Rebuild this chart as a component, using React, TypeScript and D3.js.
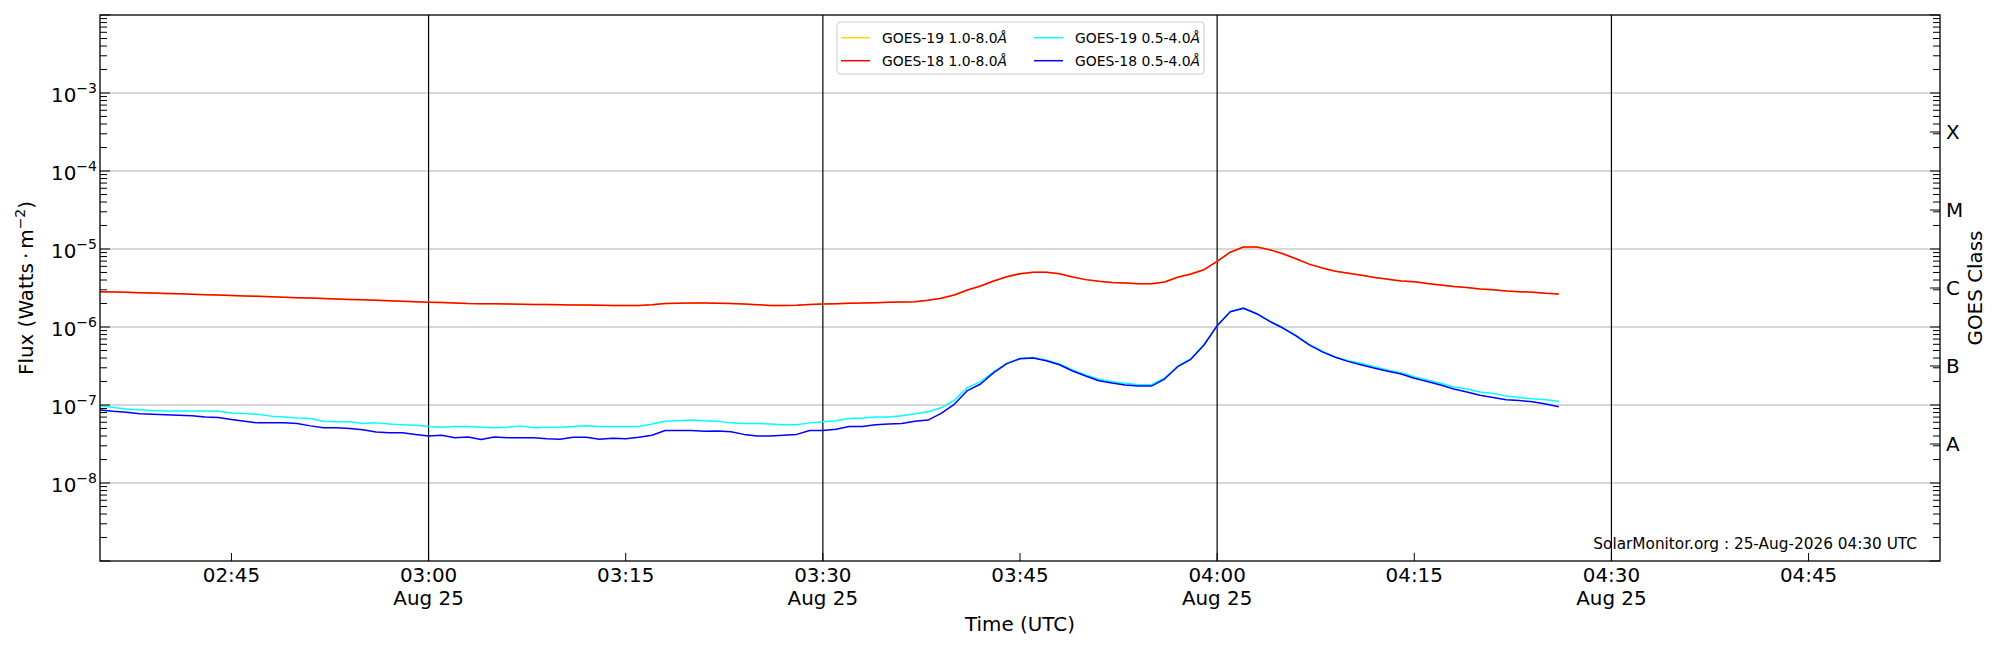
import * as d3 from 'd3';
import * as React from 'react';

const WIDTH = 2000;
const HEIGHT = 650;
const FONT = '"DejaVu Sans", sans-serif';
const FS = 19.9; // 14pt labels
const SUP = 14;

// one sample per minute, starting 02:35 UTC
const startTime = new Date(Date.UTC(2026, 7, 25, 2, 35));

// GOES-18 1.0-8.0 A, in 1e-6 W/m2
const goes18Long = [
  2.83, 2.8, 2.78, 2.75, 2.72, 2.69, 2.66, 2.63, 2.6, 2.57, 2.53, 2.5, 2.47, 2.44, 2.41, 2.38, 2.35, 2.32, 2.29, 2.26,
  2.23, 2.2, 2.17, 2.14, 2.11, 2.08, 2.06, 2.03,
  2.0, 1.99, 1.98, 1.97, 1.96, 1.95, 1.94, 1.93, 1.92, 1.91, 1.9, 1.89, 1.89, 1.88, 1.93, 2.0, 2.02, 2.03, 2.03, 2.02,
  2.0, 1.97, 1.93, 1.89, 1.89, 1.9, 1.94, 1.97,
  1.99, 2.01, 2.03, 2.05, 2.07, 2.09, 2.11, 2.2, 2.33, 2.57, 2.98, 3.35, 3.88, 4.4, 4.83, 5.03, 5.03, 4.83, 4.38, 4.05,
  3.85, 3.73, 3.66, 3.59, 3.59, 3.78, 4.34, 4.78,
  5.43, 6.95, 9.1, 10.6, 10.6, 9.8, 8.7, 7.5, 6.4, 5.7, 5.2, 4.9, 4.6, 4.3, 4.1, 3.9, 3.8, 3.6, 3.45, 3.3, 3.2, 3.07,
  3.0, 2.9, 2.84, 2.79, 2.7, 2.65,
];

// GOES-19 1.0-8.0 A sits exactly under the GOES-18 curve
const goes19Long = goes18Long;

// GOES-19 0.5-4.0 A, in 1e-7 W/m2
const goes19Short = [
  0.98, 0.93, 0.89, 0.87, 0.85, 0.84, 0.84, 0.84, 0.84, 0.83, 0.79, 0.78, 0.76, 0.72, 0.7, 0.68, 0.67, 0.62, 0.61, 0.61,
  0.58, 0.59, 0.57, 0.56, 0.55, 0.53, 0.52, 0.53,
  0.53, 0.52, 0.51, 0.52, 0.54, 0.51, 0.52, 0.52, 0.53, 0.54, 0.53, 0.53, 0.53, 0.53, 0.57, 0.62, 0.63, 0.64, 0.63, 0.62,
  0.59, 0.58, 0.58, 0.57, 0.56, 0.56, 0.59, 0.61,
  0.63, 0.67, 0.68, 0.7, 0.7, 0.73, 0.77, 0.82, 0.92, 1.15, 1.67, 1.99, 2.67, 3.42, 3.97, 4.05, 3.78, 3.36, 2.81, 2.42,
  2.14, 1.99, 1.9, 1.82, 1.82, 2.22, 3.16, 3.92,
  5.95, 10.4, 15.8, 17.5, 14.9, 11.9, 9.8, 7.8, 6.0, 4.9, 4.1, 3.7, 3.4, 3.1, 2.8, 2.6, 2.3, 2.1, 1.9, 1.7, 1.6, 1.47,
  1.4, 1.3, 1.25, 1.2, 1.17, 1.12,
];

// GOES-18 0.5-4.0 A, in 1e-7 W/m2
const goes18Short = [
  0.86, 0.83, 0.81, 0.77, 0.76, 0.75, 0.74, 0.73, 0.7, 0.69, 0.65, 0.62, 0.59, 0.59, 0.59, 0.58, 0.54, 0.51, 0.51, 0.5,
  0.48, 0.45, 0.44, 0.44, 0.42, 0.4, 0.41, 0.38,
  0.39, 0.36, 0.39, 0.38, 0.38, 0.38, 0.37, 0.365, 0.385, 0.385, 0.365, 0.375, 0.37, 0.385, 0.41, 0.47, 0.47, 0.47,
  0.46, 0.465, 0.455, 0.42, 0.4, 0.4, 0.41, 0.42, 0.47, 0.47,
  0.49, 0.53, 0.53, 0.56, 0.57, 0.58, 0.62, 0.64, 0.78, 1.02, 1.53, 1.86, 2.6, 3.39, 3.92, 4.0, 3.7, 3.28, 2.73, 2.35,
  2.05, 1.91, 1.8, 1.75, 1.75, 2.15, 3.1, 3.85,
  5.88, 10.4, 15.7, 17.4, 14.8, 11.8, 9.7, 7.7, 5.9, 4.8, 4.1, 3.6, 3.26, 2.96, 2.7, 2.5, 2.2, 2.0, 1.8, 1.6, 1.47,
  1.33, 1.25, 1.17, 1.14, 1.1, 1.03, 0.95,
];

const seriesNames = ['GOES-19 1.0-8.0', 'GOES-18 1.0-8.0', 'GOES-19 0.5-4.0', 'GOES-18 0.5-4.0'];
const seriesColors = ['#ffd700', '#ff0000', '#00ffff', '#0000ff'];
const yTickExponents = [-8, -7, -6, -5, -4, -3];
const goesClasses = ['A', 'B', 'C', 'M', 'X'];
const classCenters = [-7.5, -6.5, -5.5, -4.5, -3.5];
const dayLines = ['03:00', '03:30', '04:00', '04:30'];
const watermark = 'SolarMonitor.org : 25-Aug-2026 04:30 UTC';

const M = { left: 100, right: 1940, top: 15, bottom: 561 };

const App = () => {
  const x = d3
    .scaleUtc()
    .domain([new Date(Date.UTC(2026, 7, 25, 2, 35)), new Date(Date.UTC(2026, 7, 25, 4, 55))])
    .range([M.left, M.right]);
  const y = d3.scaleLog().domain([1e-9, 1e-2]).range([M.bottom, M.top]);

  const seriesData = [
    goes19Long.map((v) => v * 1e-6),
    goes18Long.map((v) => v * 1e-6),
    goes19Short.map((v) => v * 1e-7),
    goes18Short.map((v) => v * 1e-7),
  ];

  const line = d3
    .line<number>()
    .x((d, i) => x(d3.utcMinute.offset(startTime, i)))
    .y((d) => y(d));

  // minor ticks 2..9 in every decade
  const minorTicks: number[] = [];
  for (let e = -9; e < -2; e++) {
    for (let k = 2; k <= 9; k++) minorTicks.push(k * Math.pow(10, e));
  }

  const xTicks = d3.utcMinute.every(15)!.range(x.domain()[0], x.domain()[1]).filter((t) => t > x.domain()[0]);
  const fmt = d3.utcFormat('%H:%M');
  const dateFmt = d3.utcFormat('%b %d');

  return (
    <svg
      width={WIDTH}
      height={HEIGHT}
      style={{ position: 'absolute', left: 0, top: 0, background: '#fff' }}
      fontFamily={FONT}
    >
      {/* horizontal grid */}
      {yTickExponents.map((e) => (
        <line key={e} x1={M.left} x2={M.right} y1={y(Math.pow(10, e))} y2={y(Math.pow(10, e))} stroke="#b0b0b0" strokeWidth={1} />
      ))}

      {/* half hour markers */}
      {xTicks
        .filter((t) => dayLines.includes(fmt(t)))
        .map((t) => (
          <line key={+t} x1={x(t)} x2={x(t)} y1={M.top} y2={M.bottom} stroke="#000" strokeWidth={1.2} />
        ))}

      {/* data: gold under red, cyan under blue */}
      <g fill="none" strokeWidth={1.5} strokeLinejoin="round">
        {seriesData.map((d, i) => (
          <path key={i} d={line(d) || ''} stroke={seriesColors[i]} />
        ))}
      </g>

      {/* ticks, both sides */}
      {yTickExponents.concat([-9, -2]).map((e) => (
        <g key={'l' + e}>
          <line x1={M.left} x2={M.left + 10} y1={y(Math.pow(10, e))} y2={y(Math.pow(10, e))} stroke="#000" />
          <line x1={M.right} x2={M.right - 10} y1={y(Math.pow(10, e))} y2={y(Math.pow(10, e))} stroke="#000" />
        </g>
      ))}
      {minorTicks.map((v, i) => (
        <g key={'m' + i}>
          <line x1={M.left} x2={M.left + 7} y1={y(v)} y2={y(v)} stroke="#000" />
          <line x1={M.right} x2={M.right - 7} y1={y(v)} y2={y(v)} stroke="#000" />
        </g>
      ))}
      {classCenters.map((c, i) => (
        <line key={'c' + i} x1={M.right} x2={M.right - 10} y1={y(Math.pow(10, c))} y2={y(Math.pow(10, c))} stroke="#000" />
      ))}

      {/* y tick labels */}
      {yTickExponents.map((e) => (
        <text key={'t' + e} x={M.left - 3} y={y(Math.pow(10, e)) + 8.5} textAnchor="end" fontSize={FS}>
          10
          <tspan fontSize={SUP} dy={-8.5}>
            {'\u2212' + Math.abs(e)}
          </tspan>
        </text>
      ))}

      {/* GOES class labels */}
      {goesClasses.map((c, i) => (
        <text key={c} x={M.right + 6} y={y(Math.pow(10, classCenters[i])) + 7} fontSize={FS}>
          {c}
        </text>
      ))}

      {/* x ticks */}
      {xTicks.map((t) => (
        <g key={'x' + +t}>
          <line x1={x(t)} x2={x(t)} y1={M.bottom} y2={M.bottom - 8} stroke="#000" />
          <text x={x(t)} y={581.5} textAnchor="middle" fontSize={FS}>
            {fmt(t)}
          </text>
          {dayLines.includes(fmt(t)) && (
            <text x={x(t)} y={605} textAnchor="middle" fontSize={FS}>
              {dateFmt(t)}
            </text>
          )}
        </g>
      ))}

      {/* frame */}
      <rect x={M.left} y={M.top} width={M.right - M.left} height={M.bottom - M.top} fill="none" stroke="#000" strokeWidth={1.3} />

      {/* axis titles */}
      <text x={(M.left + M.right) / 2} y={631} textAnchor="middle" fontSize={FS}>
        Time (UTC)
      </text>
      <text transform={`translate(33, ${(M.top + M.bottom) / 2}) rotate(-90)`} textAnchor="middle" fontSize={FS}>
        Flux (Watts
        <tspan dx={4}>·</tspan>
        <tspan dx={4}>m</tspan>
        <tspan fontSize={SUP} dy={-8.5}>
          −2
        </tspan>
        <tspan dy={8.5}>)</tspan>
      </text>
      <text transform={`translate(1982, ${(M.top + M.bottom) / 2}) rotate(-90)`} textAnchor="middle" fontSize={FS}>
        GOES Class
      </text>

      {/* watermark */}
      <text x={1917} y={549} textAnchor="end" fontSize={15.3}>
        {watermark}
      </text>

      {/* legend */}
      <g fontSize={13.9}>
        <rect x={837} y={22} width={367} height={52} rx={3} fill="#fff" fillOpacity={0.8} stroke="#cccccc" />
        {seriesNames.map((name, i) => {
          const col = i < 2 ? 0 : 1;
          const row = i % 2;
          const lx = 841 + col * 193;
          const ly = 37.7 + row * 23;
          return (
            <g key={name}>
              <line x1={lx} x2={lx + 29} y1={ly} y2={ly} stroke={seriesColors[i]} strokeWidth={1.5} />
              <text x={lx + 41} y={ly + 5}>
                {name}
                <tspan fontStyle="italic">Å</tspan>
              </text>
            </g>
          );
        })}
      </g>
    </svg>
  );
};

export default App;
